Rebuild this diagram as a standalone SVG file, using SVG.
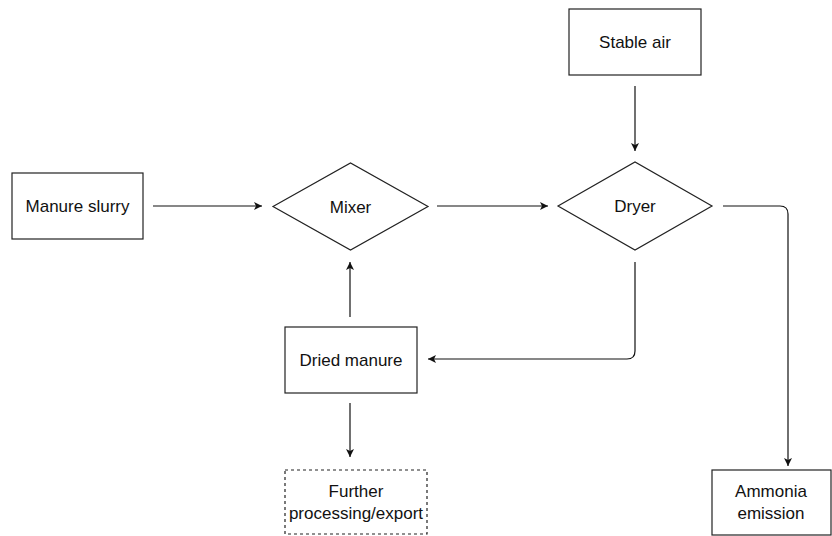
<svg xmlns="http://www.w3.org/2000/svg" width="832" height="536" viewBox="0 0 832 536">
<style>
.box{fill:#fff;stroke:#222;stroke-width:1.2}
.dash{fill:#fff;stroke:#222;stroke-width:1.2;stroke-dasharray:3 3}
.lbl{font-family:"Liberation Sans",Arial,sans-serif;font-size:17px;fill:#111;text-anchor:middle}
.conn{fill:none;stroke:#111;stroke-width:1.2}
</style>
<defs>
<marker id="arr" viewBox="0 0 10 10" refX="10" refY="5" markerWidth="8" markerHeight="8" markerUnits="userSpaceOnUse" orient="auto">
<path d="M0,0 L10,5 L0,10 L2.5,5 Z" fill="#111"/>
</marker>
</defs>
<rect width="832" height="536" fill="#fff"/>
<g id="connectors">
<path class="conn" d="M153,206 H262" marker-end="url(#arr)"/>
<path class="conn" d="M437,206 H548" marker-end="url(#arr)"/>
<path class="conn" d="M635,86 V151" marker-end="url(#arr)"/>
<path class="conn" d="M723,206 H780 Q788,206 788,214 V466" marker-end="url(#arr)"/>
<path class="conn" d="M635,262 V351 Q635,359 627,359 H428" marker-end="url(#arr)"/>
<path class="conn" d="M350,317 V262" marker-end="url(#arr)"/>
<path class="conn" d="M350,403 V457" marker-end="url(#arr)"/>
</g>
<g id="manure-slurry">
<rect class="box" x="12" y="173" width="131" height="66"/>
<text class="lbl" x="77.5" y="212">Manure slurry</text>
</g>
<g id="mixer">
<polygon class="box" points="273,206.5 350.5,163 428,206.5 350.5,250"/>
<text class="lbl" x="350.5" y="212.5">Mixer</text>
</g>
<g id="stable-air">
<rect class="box" x="569" y="9" width="132" height="66"/>
<text class="lbl" x="635" y="48">Stable air</text>
</g>
<g id="dryer">
<polygon class="box" points="558,206 635,162 712,206 635,250"/>
<text class="lbl" x="635" y="212">Dryer</text>
</g>
<g id="dried-manure">
<rect class="box" x="285" y="327" width="132" height="66"/>
<text class="lbl" x="351" y="366">Dried manure</text>
</g>
<g id="further-processing">
<rect class="dash" x="285" y="470" width="142" height="64"/>
<text class="lbl" x="356" y="497">Further</text>
<text class="lbl" x="356" y="519">processing/export</text>
</g>
<g id="ammonia-emission">
<rect class="box" x="712" y="470" width="119" height="65"/>
<text class="lbl" x="771" y="497">Ammonia</text>
<text class="lbl" x="771" y="519">emission</text>
</g>
</svg>
